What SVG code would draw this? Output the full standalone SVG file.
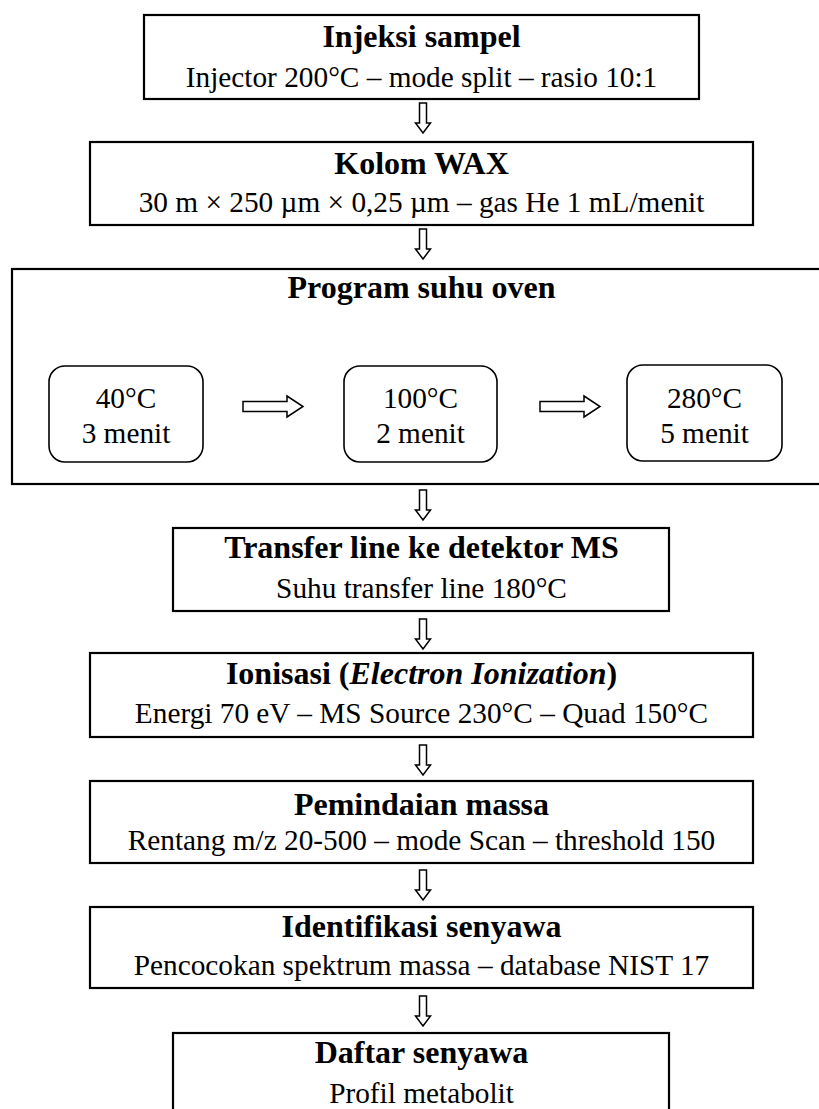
<svg xmlns="http://www.w3.org/2000/svg" width="819" height="1109" viewBox="0 0 819 1109">
<defs>
<style>
.box{fill:#fff;stroke:#000;stroke-width:2.2}
.rbox{fill:#fff;stroke:#000;stroke-width:1.6}
.arr{fill:#fff;stroke:#000;stroke-width:1.5;stroke-linejoin:miter}
.t{font-family:"Liberation Serif","Times New Roman",serif;font-size:32px;font-weight:bold;text-anchor:middle;fill:#000}
.s{font-family:"Liberation Serif","Times New Roman",serif;font-size:29.3px;text-anchor:middle;fill:#000}
</style>
<path id="down" d="M-3.5,0 h7 v20 h4 l-7.5,10 l-7.5,-10 h4 z"/>
<path id="right" d="M0,-5 h44 v-5.5 l16,10.5 l-16,10.5 v-5.5 h-44 z"/>
</defs>
<rect width="819" height="1109" fill="#fff"/>
<g id="n1">
<rect class="box" x="144" y="15" width="555" height="84"/>
<text class="t" x="421.5" y="47">Injeksi sampel</text>
<text class="s" x="421.5" y="87">Injector 200°C – mode split – rasio 10:1</text>
</g>
<g id="n2">
<rect class="box" x="90" y="142" width="663" height="83"/>
<text class="t" x="421.5" y="174">Kolom WAX</text>
<text class="s" x="421.5" y="212">30 m × 250 µm × 0,25 µm – gas He 1 mL/menit</text>
</g>
<g id="n3">
<rect class="box" x="12" y="269" width="830" height="215"/>
<text class="t" x="421.5" y="298">Program suhu oven</text>
</g>
<g id="n3a">
<rect class="rbox" x="49" y="366" width="154" height="96" rx="16"/>
<text class="s" x="126" y="408">40°C</text>
<text class="s" x="126" y="443">3 menit</text>
</g>
<g id="n3b">
<rect class="rbox" x="344" y="366" width="153" height="96" rx="16"/>
<text class="s" x="420.5" y="408">100°C</text>
<text class="s" x="420.5" y="443">2 menit</text>
</g>
<g id="n3c">
<rect class="rbox" x="627" y="365" width="155" height="96" rx="16"/>
<text class="s" x="704.5" y="408">280°C</text>
<text class="s" x="704.5" y="443">5 menit</text>
</g>
<g id="n4">
<rect class="box" x="173" y="528" width="496" height="83"/>
<text class="t" x="421.5" y="558">Transfer line ke detektor MS</text>
<text class="s" x="421.5" y="598">Suhu transfer line 180°C</text>
</g>
<g id="n5">
<rect class="box" x="90" y="653" width="663" height="84"/>
<text class="t" x="421.5" y="684">Ionisasi (<tspan font-style="italic">Electron Ionization</tspan>)</text>
<text class="s" x="421.5" y="723">Energi 70 eV – MS Source 230°C – Quad 150°C</text>
</g>
<g id="n6">
<rect class="box" x="90" y="781" width="663" height="82"/>
<text class="t" x="421.5" y="815">Pemindaian massa</text>
<text class="s" x="421.5" y="850">Rentang m/z 20-500 – mode Scan – threshold 150</text>
</g>
<g id="n7">
<rect class="box" x="90" y="907" width="663" height="81"/>
<text class="t" x="421.5" y="937">Identifikasi senyawa</text>
<text class="s" x="421.5" y="975">Pencocokan spektrum massa – database NIST 17</text>
</g>
<g id="n8">
<rect class="box" x="173" y="1033" width="496" height="90"/>
<text class="t" x="421.5" y="1063">Daftar senyawa</text>
<text class="s" x="421.5" y="1103">Profil metabolit</text>
</g>
<g id="connectors">
<use href="#down" class="arr" x="423" y="103"/>
<use href="#down" class="arr" x="423" y="229"/>
<use href="#down" class="arr" x="423" y="490"/>
<use href="#down" class="arr" x="423" y="619"/>
<use href="#down" class="arr" x="423" y="745"/>
<use href="#down" class="arr" x="423" y="870"/>
<use href="#down" class="arr" x="423" y="996"/>
<use href="#right" class="arr" x="243" y="406.5"/>
<use href="#right" class="arr" x="540" y="406.5"/>
</g>
</svg>
